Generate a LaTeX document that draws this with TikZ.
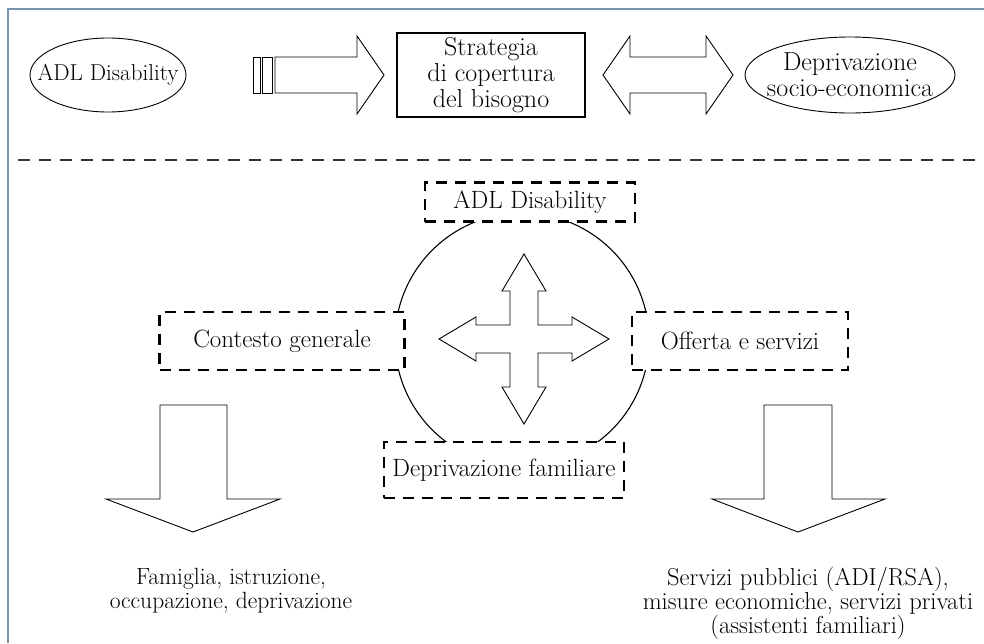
\documentclass[tikz,border=0pt]{standalone}
\usepackage{fontspec}
\usetikzlibrary{shapes.geometric}
\definecolor{framecol}{RGB}{121,148,176}
\begin{document}
\begin{tikzpicture}[x=1pt,y=-1pt]
		\tikzset{oval/.style = {ellipse, draw, line width=0.9pt, inner sep=0pt},
			topfont/.style = {font=\fontsize{26}{26}\selectfont},
			lowfont/.style = {font=\fontsize{24.5}{24}\selectfont},
			dashbox/.style = {draw, fill=white, line width=2.8pt, dash pattern=on 11pt off 8pt, inner sep=0pt, font=\fontsize{25}{25}\selectfont},
			blockarrow/.style = {draw, line width=0.9pt, fill=white, line join=miter}}

		\useasboundingbox (0,0) rectangle (984,643);

		%frame
		\draw[framecol, line width=1.2pt] (8,643) -- (8,9) -- (984,9);

		%top row
		\node[oval, minimum width=156, minimum height=74] (adl_top) at (108,75) {};
		\node[font=\fontsize{23}{24}\selectfont] (adl_txt) at (adl_top) {ADL Disability};
		\node[draw, line width=1.2pt, minimum width=188, minimum height=84, inner sep=0pt, align=center, topfont] (strat) at (491,75) {Strategia\\di copertura\\del bisogno};
		\node[oval, minimum width=210, minimum height=76] (depr_top) at (850,75) {};
		\node[align=center, topfont] (depr_txt) at (depr_top) {Deprivazione\\socio-economica};

		%arrows
		\draw[blockarrow] (253,57) rectangle (260,93);
		\draw[blockarrow] (262,57) rectangle (272,93);
		\draw[blockarrow] (275,57) -- (357,57) -- (357,36) -- (384,75) -- (357,114) -- (357,93) -- (275,93) -- cycle;
		\draw[blockarrow] (603,75) -- (630,36) -- (630,57) -- (706,57) -- (706,36) -- (733,75) -- (706,114) -- (706,93) -- (630,93) -- (630,114) -- cycle;

		%separator
		\draw[black!80, line width=1.3pt, dash pattern=on 12pt off 9pt] (18,160) -- (975,160);

		%circle and cross
		\coordinate (C) at (522,340);
		\draw[line width=1.1pt] (C) circle[radius=127];
		\draw[blockarrow, shift={(524,339)}] (0,-85) -- (22,-48) -- (14,-48) -- (14,-14) -- (48,-14) -- (48,-22) -- (85,0) -- (48,22) -- (48,14) -- (14,14) -- (14,48) -- (22,48) -- (0,85) -- (-22,48) -- (-14,48) -- (-14,14) -- (-48,14) -- (-48,22) -- (-85,0) -- (-48,-22) -- (-48,-14) -- (-14,-14) -- (-14,-48) -- (-22,-48) -- cycle;

		\node[dashbox, minimum width=210, minimum height=39] (adl) at (530,202) {ADL Disability};
		\node[dashbox, minimum width=245, minimum height=58] (cont) at (282,341) {Contesto generale};
		\node[dashbox, minimum width=216, minimum height=58] (off) at (740,341) {Offerta e servizi};
		\node[dashbox, minimum width=240, minimum height=56] (fam) at (504,470) {Deprivazione familiare};

		%down arrows
		\draw[blockarrow] (160,405) -- (227,405) -- (227,499) -- (280,499) -- (193,532) -- (106,499) -- (160,499) -- cycle;
		\draw[blockarrow] (764,405) -- (832,405) -- (832,499) -- (885,499) -- (798,532) -- (712,499) -- (764,499) -- cycle;

		\node[align=center, font=\fontsize{23.5}{24}\selectfont] (fam_out) at (231,591) {Famiglia, istruzione,\\occupazione, deprivazione};
		\node[align=center, lowfont] (off_out) at (808,603) {Servizi pubblici (ADI/RSA),\\misure economiche, servizi privati\\(assistenti familiari)};

	\end{tikzpicture}
\end{document}
